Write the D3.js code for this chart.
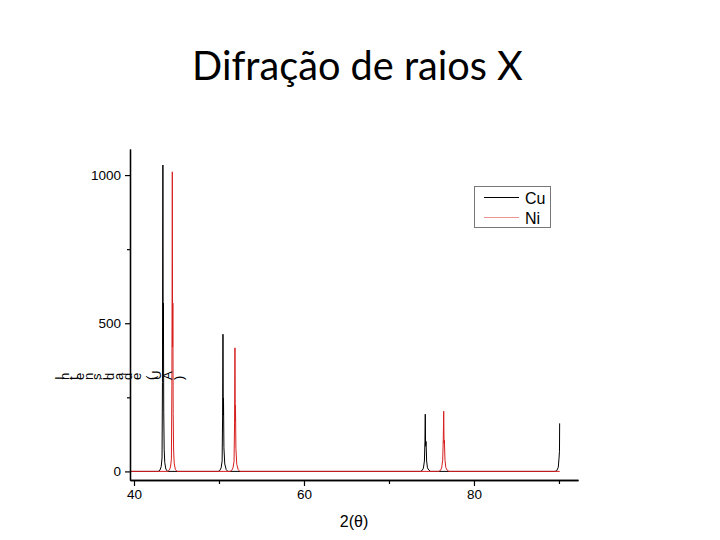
<!DOCTYPE html>
<html>
<head>
<meta charset="utf-8">
<script src="https://cdn.jsdelivr.net/npm/d3@7/dist/d3.min.js"></script>
<style>
  html, body { margin: 0; padding: 0; background: #fff; }
  svg { display: block; }
</style>
</head>
<body>
<svg id="chart" width="720" height="540"></svg>
<script>
// ---- Data ----
const title = "Difração de raios X";
const xLabel = "2(\u03B8)";
const yLabel = "Intensidade (UA)";
const seriesNames = ["Cu", "Ni"];
const seriesColors = ["#000000", "#d81e1e"];

const xMajorTicks = [40, 60, 80];
const xMinorTicks = [50, 70, 90];
const yMajorTicks = [0, 500, 1000];
const yMinorTicks = [250, 750];

// Cu pattern: 2θ (deg) and intensity (a.u.)
const cuTwoTheta = [39.6, 42.85, 43.05, 43.2, 43.3, 43.35, 43.40, 43.43, 43.46, 43.50, 43.55, 43.62, 43.75, 43.95,
                    49.9, 50.1, 50.25, 50.37, 50.43, 50.47, 50.50, 50.53, 50.58, 50.68, 50.85, 51.05,
                    73.7, 73.9, 74.05, 74.17, 74.23, 74.27, 74.31, 74.36, 74.43, 74.53, 74.7, 74.9,
                    89.55, 89.75, 89.92, 90.01, 90.06, 90.08, 90.09];
const cuIntensity = [0, 0, 4, 16, 45, 300, 1034, 430, 568, 200, 75, 30, 8, 0,
                     0, 3, 12, 35, 200, 463, 190, 247, 80, 25, 6, 0,
                     0, 3, 11, 35, 100, 193, 85, 101, 35, 12, 4, 0,
                     0, 3, 14, 45, 68, 162, 162];

// Ni pattern
const niTwoTheta = [39.6, 43.95, 44.15, 44.3, 44.4, 44.46, 44.51, 44.54, 44.57, 44.61, 44.66, 44.73, 44.86, 45.06,
                    51.3, 51.5, 51.65, 51.77, 51.84, 51.88, 51.91, 51.94, 51.99, 52.09, 52.26, 52.46,
                    75.85, 76.05, 76.2, 76.32, 76.39, 76.44, 76.48, 76.52, 76.59, 76.69, 76.85, 77.05,
                    90.09];
const niIntensity = [0, 0, 4, 15, 42, 290, 1011, 420, 568, 195, 72, 28, 7, 0,
                     0, 3, 12, 34, 180, 417, 170, 224, 78, 24, 6, 0,
                     0, 3, 12, 38, 110, 203, 95, 105, 38, 13, 4, 0,
                     0];

// ---- Drawing ----
const svg = d3.select("#chart");
const axisFont = "'Liberation Sans', Arial, sans-serif";

const x = d3.scaleLinear().domain([39.53, 92.24]).range([130, 578]);
const y = d3.scaleLinear().domain([-29, 1088]).range([480, 149]);

// Title
svg.append("text")
  .attr("x", 357.5).attr("y", 80)
  .attr("text-anchor", "middle")
  .attr("font-family", "Lato, 'Open Sans', sans-serif")
  .attr("font-size", 39.7)
  .attr("fill", "#000")
  .text(title);

// Series lines
const series = [
  { name: seriesNames[0], xs: cuTwoTheta, ys: cuIntensity, color: seriesColors[0] },
  { name: seriesNames[1], xs: niTwoTheta, ys: niIntensity, color: seriesColors[1] }
];
const line = d3.line().x(d => x(d[0])).y(d => y(d[1]));
series.forEach(s => {
  svg.append("path")
    .datum(s.xs.map((v, i) => [v, s.ys[i]]))
    .attr("fill", "none")
    .attr("stroke", s.color)
    .attr("stroke-width", 1)
    .attr("d", line);
});

// Axes
const yAxisMajor = d3.axisLeft(y).tickValues(yMajorTicks).tickSize(5).tickSizeOuter(0).tickPadding(4).tickFormat(d3.format("d"));
const yAxisMinor = d3.axisLeft(y).tickValues(yMinorTicks).tickSize(3).tickSizeOuter(0).tickFormat("");
const xAxisMajor = d3.axisBottom(x).tickValues(xMajorTicks).tickSize(6).tickSizeOuter(0).tickPadding(3).tickFormat(d3.format("d"));
const xAxisMinor = d3.axisBottom(x).tickValues(xMinorTicks).tickSize(4).tickSizeOuter(0).tickFormat("");

function styleAxis(g) {
  g.selectAll("path.domain").attr("stroke", "#000").attr("stroke-width", 1.3);
  g.selectAll(".tick line").attr("stroke", "#000").attr("stroke-width", 1.2);
  g.selectAll(".tick text").attr("font-family", axisFont).attr("font-size", 13.5).attr("fill", "#000");
}
svg.append("g").attr("transform", "translate(130,0)").call(yAxisMinor).call(styleAxis);
svg.append("g").attr("transform", "translate(130,0)").call(yAxisMajor).call(styleAxis);
svg.append("g").attr("transform", "translate(0,480)").call(xAxisMinor).call(styleAxis);
svg.append("g").attr("transform", "translate(0,480)").call(xAxisMajor).call(styleAxis);

// X label
svg.append("text")
  .attr("x", 354).attr("y", 527)
  .attr("text-anchor", "middle")
  .attr("font-family", axisFont)
  .attr("font-size", 16)
  .attr("fill", "#000")
  .text(xLabel);

// Y label (glyphs individually rotated, laid out horizontally as in the reference)
svg.append("text")
  .attr("x", 64).attr("y", 380)
  .attr("rotate", -90)
  .attr("letter-spacing", 1.7)
  .attr("font-family", axisFont)
  .attr("font-size", 13)
  .attr("fill", "#000")
  .text(yLabel);

// Legend
const lg = svg.append("g").attr("transform", "translate(474,186)");
lg.append("rect").attr("x", 0.5).attr("y", 0.5).attr("width", 76).attr("height", 41)
  .attr("fill", "#fff").attr("stroke", "#777").attr("stroke-width", 1);
series.forEach((s, i) => {
  const yy = 11.5 + i * 20;
  lg.append("line").attr("x1", 10).attr("x2", 45).attr("y1", yy).attr("y2", yy)
    .attr("stroke", s.color).attr("stroke-width", i === 0 ? 1.2 : 0.8)
    .attr("stroke-opacity", i === 0 ? 1 : 0.6);
  lg.append("text").attr("x", 51).attr("y", yy + 6)
    .attr("font-family", axisFont).attr("font-size", 16).attr("fill", "#000")
    .text(s.name);
});
</script>
</body>
</html>
